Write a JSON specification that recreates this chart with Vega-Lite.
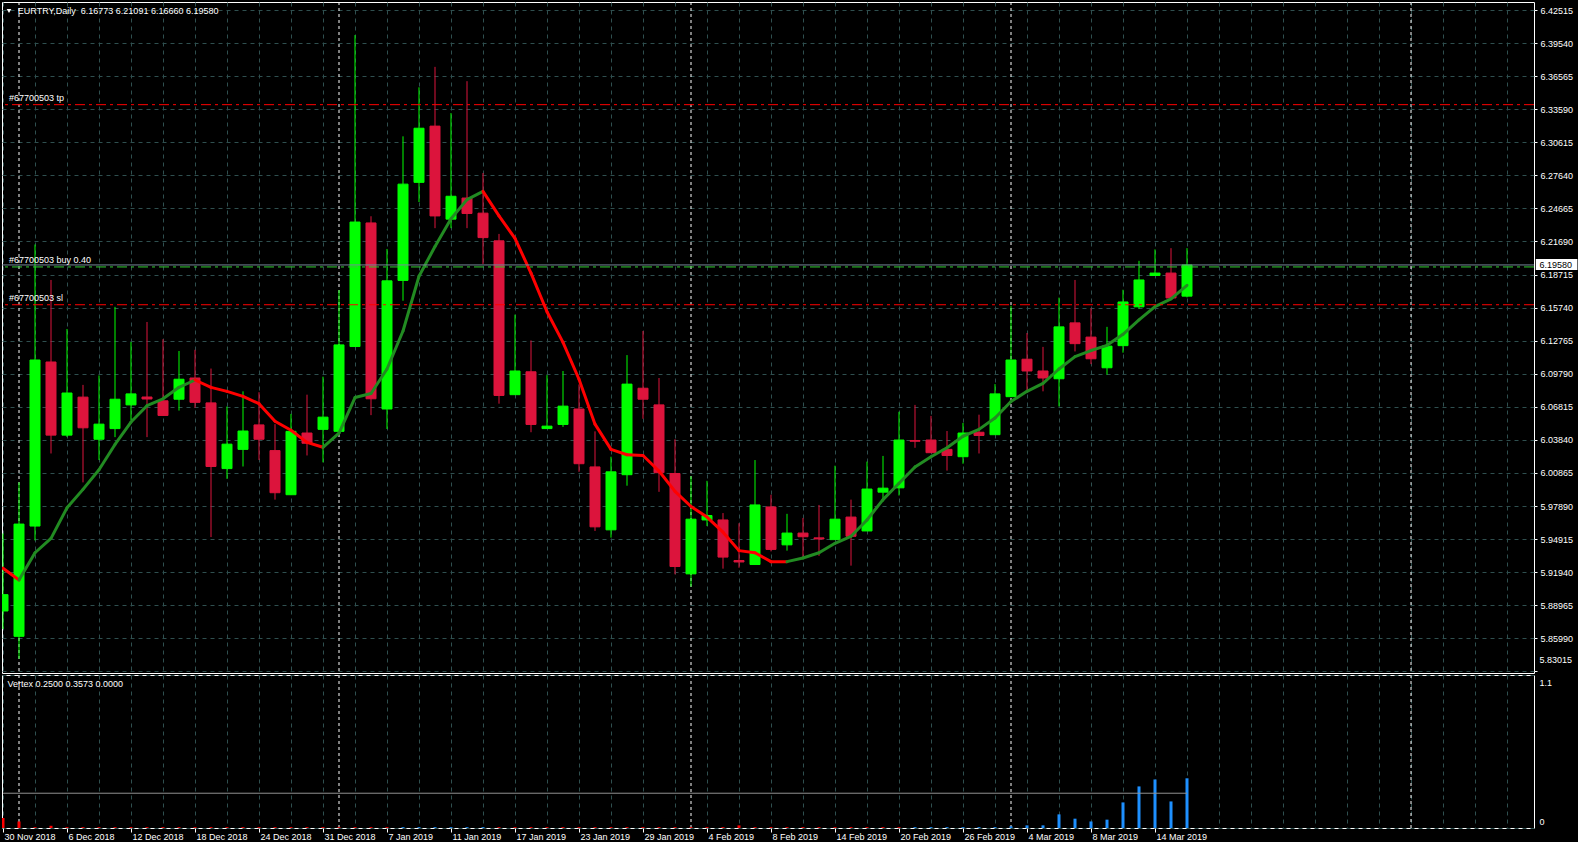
{
"$schema": "https://vega.github.io/schema/vega-lite/v6.json",
"background": "#000000",
"padding": {"left": 0, "top": 1, "right": 0, "bottom": 0},
"bounds": "flush",
"spacing": 2,
"config": {
  "view": {"stroke": "#FFFFFF", "strokeWidth": 1},
  "axis": {"domain": false, "labelFont": "Liberation Sans", "labelFontSize": 9, "labelColor": "#FFFFFF", "gridColor": "#2F4F4F", "gridDash": [4, 4], "gridOpacity": 1, "gridWidth": 1, "tickColor": "#FFFFFF", "labelOverlap": false},
  "text": {"font": "Liberation Sans", "fontSize": 9}
},
"datasets": {
  "bars": [
    {"i":0,"d":"2018-11-30","o":5.8845,"h":5.9542,"l":5.8683,"c":5.8992,"ma":5.9230,"v":0.072,"side":"down"},
    {"i":1,"d":"2018-12-03","o":5.8617,"h":6.0002,"l":5.8415,"c":5.9627,"ma":5.9124,"v":0.047,"side":"down"},
    {"i":2,"d":"2018-12-04","o":5.9609,"h":6.2142,"l":5.9480,"c":6.1103,"ma":5.9369,"v":0.006,"side":"down"},
    {"i":3,"d":"2018-12-05","o":6.1085,"h":6.1823,"l":6.0262,"c":6.0427,"ma":5.9498,"v":0.016,"side":"down"},
    {"i":4,"d":"2018-12-06","o":6.0427,"h":6.1382,"l":6.0410,"c":6.0806,"ma":5.9773,"v":0.006,"side":"down"},
    {"i":5,"d":"2018-12-07","o":6.0769,"h":6.0879,"l":6.0002,"c":6.0493,"ma":5.9939,"v":0.006,"side":"down"},
    {"i":6,"d":"2018-12-10","o":6.0390,"h":6.0964,"l":6.0203,"c":6.0526,"ma":6.0115,"v":0.006,"side":"down"},
    {"i":7,"d":"2018-12-11","o":6.0486,"h":6.1581,"l":6.0409,"c":6.0750,"ma":6.0343,"v":0.006,"side":"down"},
    {"i":8,"d":"2018-12-12","o":6.0699,"h":6.1265,"l":6.0563,"c":6.0798,"ma":6.0545,"v":0.006,"side":"down"},
    {"i":9,"d":"2018-12-13","o":6.0770,"h":6.1445,"l":6.0409,"c":6.0752,"ma":6.0692,"v":0.006,"side":"down"},
    {"i":10,"d":"2018-12-14","o":6.0736,"h":6.1290,"l":6.0600,"c":6.0604,"ma":6.0754,"v":0.006,"side":"down"},
    {"i":11,"d":"2018-12-17","o":6.0750,"h":6.1184,"l":6.0648,"c":6.0930,"ma":6.0857,"v":0.006,"side":"down"},
    {"i":12,"d":"2018-12-18","o":6.0941,"h":6.1195,"l":6.0673,"c":6.0722,"ma":6.0923,"v":0.006,"side":"down"},
    {"i":13,"d":"2018-12-19","o":6.0717,"h":6.1026,"l":5.9510,"c":6.0145,"ma":6.0857,"v":0.006,"side":"down"},
    {"i":14,"d":"2018-12-20","o":6.0126,"h":6.0685,"l":6.0034,"c":6.0346,"ma":6.0821,"v":0.006,"side":"down"},
    {"i":15,"d":"2018-12-21","o":6.0299,"h":6.0821,"l":6.0145,"c":6.0464,"ma":6.0776,"v":0.006,"side":"down"},
    {"i":16,"d":"2018-12-24","o":6.0519,"h":6.0813,"l":6.0203,"c":6.0390,"ma":6.0710,"v":0.006,"side":"down"},
    {"i":17,"d":"2018-12-26","o":6.0288,"h":6.0526,"l":5.9847,"c":5.9909,"ma":6.0552,"v":0.006,"side":"down"},
    {"i":18,"d":"2018-12-27","o":5.9891,"h":6.0618,"l":5.9888,"c":6.0461,"ma":6.0471,"v":0.006,"side":"down"},
    {"i":19,"d":"2018-12-28","o":6.0446,"h":6.0791,"l":6.0244,"c":6.0354,"ma":6.0362,"v":0.006,"side":"down"},
    {"i":20,"d":"2018-12-31","o":6.0479,"h":6.0953,"l":6.0182,"c":6.0589,"ma":6.0318,"v":0.006,"side":"down"},
    {"i":21,"d":"2019-01-02","o":6.0461,"h":6.1731,"l":6.0446,"c":6.1239,"ma":6.0446,"v":0.006,"side":"down"},
    {"i":22,"d":"2019-01-03","o":6.1224,"h":6.4026,"l":6.1220,"c":6.2344,"ma":6.0765,"v":0.006,"side":"down"},
    {"i":23,"d":"2019-01-04","o":6.2336,"h":6.2396,"l":6.0607,"c":6.0754,"ma":6.0802,"v":0.006,"side":"down"},
    {"i":24,"d":"2019-01-07","o":6.0662,"h":6.2102,"l":6.0482,"c":6.1815,"ma":6.1022,"v":0.006,"side":"down"},
    {"i":25,"d":"2019-01-08","o":6.1819,"h":6.3115,"l":6.1636,"c":6.2685,"ma":6.1364,"v":0.006,"side":"up"},
    {"i":26,"d":"2019-01-09","o":6.2701,"h":6.3556,"l":6.2524,"c":6.3188,"ma":6.1856,"v":0.006,"side":"up"},
    {"i":27,"d":"2019-01-10","o":6.3207,"h":6.3740,"l":6.2289,"c":6.2399,"ma":6.2124,"v":0.006,"side":"up"},
    {"i":28,"d":"2019-01-11","o":6.2370,"h":6.3324,"l":6.2289,"c":6.2576,"ma":6.2373,"v":0.006,"side":"up"},
    {"i":29,"d":"2019-01-14","o":6.2560,"h":6.3611,"l":6.2289,"c":6.2421,"ma":6.2546,"v":0.006,"side":"up"},
    {"i":30,"d":"2019-01-15","o":6.2424,"h":6.2785,"l":6.1966,"c":6.2204,"ma":6.2620,"v":0.006,"side":"up"},
    {"i":31,"d":"2019-01-16","o":6.2175,"h":6.2237,"l":6.0710,"c":6.0784,"ma":6.2399,"v":0.006,"side":"down"},
    {"i":32,"d":"2019-01-17","o":6.0791,"h":6.1511,"l":6.0788,"c":6.1004,"ma":6.2197,"v":0.006,"side":"down"},
    {"i":33,"d":"2019-01-18","o":6.0997,"h":6.1279,"l":6.0453,"c":6.0523,"ma":6.1885,"v":0.006,"side":"down"},
    {"i":34,"d":"2019-01-21","o":6.0486,"h":6.0967,"l":6.0486,"c":6.0508,"ma":6.1537,"v":0.006,"side":"down"},
    {"i":35,"d":"2019-01-22","o":6.0523,"h":6.1004,"l":6.0501,"c":6.0688,"ma":6.1261,"v":0.006,"side":"down"},
    {"i":36,"d":"2019-01-23","o":6.0662,"h":6.0883,"l":6.0097,"c":6.0170,"ma":6.0930,"v":0.006,"side":"down"},
    {"i":37,"d":"2019-01-24","o":6.0141,"h":6.0461,"l":5.9565,"c":5.9602,"ma":6.0526,"v":0.006,"side":"down"},
    {"i":38,"d":"2019-01-25","o":5.9575,"h":6.0233,"l":5.9505,"c":6.0097,"ma":6.0299,"v":0.006,"side":"down"},
    {"i":39,"d":"2019-01-28","o":6.0071,"h":6.1147,"l":5.9972,"c":6.0886,"ma":6.0251,"v":0.006,"side":"down"},
    {"i":40,"d":"2019-01-29","o":6.0849,"h":6.1364,"l":6.0574,"c":6.0750,"ma":6.0244,"v":0.006,"side":"down"},
    {"i":41,"d":"2019-01-30","o":6.0699,"h":6.0941,"l":5.9917,"c":6.0089,"ma":6.0104,"v":0.006,"side":"down"},
    {"i":42,"d":"2019-01-31","o":6.0082,"h":6.0390,"l":5.9175,"c":5.9245,"ma":5.9921,"v":0.006,"side":"down"},
    {"i":43,"d":"2019-02-01","o":5.9179,"h":6.0057,"l":5.9065,"c":5.9671,"ma":5.9785,"v":0.006,"side":"down"},
    {"i":44,"d":"2019-02-04","o":5.9664,"h":6.0016,"l":5.9609,"c":5.9704,"ma":5.9690,"v":0.006,"side":"down"},
    {"i":45,"d":"2019-02-05","o":5.9664,"h":5.9726,"l":5.9226,"c":5.9330,"ma":5.9554,"v":0.006,"side":"down"},
    {"i":46,"d":"2019-02-06","o":5.9299,"h":5.9634,"l":5.9234,"c":5.9286,"ma":5.9388,"v":0.019,"side":"down"},
    {"i":47,"d":"2019-02-07","o":5.9263,"h":6.0203,"l":5.9263,"c":5.9799,"ma":5.9369,"v":0.006,"side":"down"},
    {"i":48,"d":"2019-02-08","o":5.9781,"h":5.9891,"l":5.9381,"c":5.9399,"ma":5.9289,"v":0.006,"side":"down"},
    {"i":49,"d":"2019-02-11","o":5.9440,"h":5.9719,"l":5.9388,"c":5.9546,"ma":5.9289,"v":0.006,"side":"down"},
    {"i":50,"d":"2019-02-12","o":5.9546,"h":5.9682,"l":5.9330,"c":5.9513,"ma":5.9322,"v":0.006,"side":"down"},
    {"i":51,"d":"2019-02-13","o":5.9503,"h":5.9799,"l":5.9341,"c":5.9493,"ma":5.9369,"v":0.006,"side":"down"},
    {"i":52,"d":"2019-02-14","o":5.9487,"h":6.0152,"l":5.9487,"c":5.9671,"ma":5.9454,"v":0.006,"side":"down"},
    {"i":53,"d":"2019-02-15","o":5.9690,"h":5.9847,"l":5.9253,"c":5.9517,"ma":5.9517,"v":0.006,"side":"down"},
    {"i":54,"d":"2019-02-18","o":5.9565,"h":6.0189,"l":5.9565,"c":5.9942,"ma":5.9664,"v":0.006,"side":"down"},
    {"i":55,"d":"2019-02-19","o":5.9914,"h":6.0240,"l":5.9829,"c":5.9950,"ma":5.9847,"v":0.006,"side":"down"},
    {"i":56,"d":"2019-02-20","o":5.9953,"h":6.0637,"l":5.9884,"c":6.0383,"ma":5.9994,"v":0.006,"side":"down"},
    {"i":57,"d":"2019-02-21","o":6.0379,"h":6.0699,"l":6.0313,"c":6.0372,"ma":6.0141,"v":0.006,"side":"up"},
    {"i":58,"d":"2019-02-22","o":6.0383,"h":6.0600,"l":6.0269,"c":6.0269,"ma":6.0233,"v":0.006,"side":"up"},
    {"i":59,"d":"2019-02-25","o":6.0299,"h":6.0464,"l":6.0108,"c":6.0244,"ma":6.0313,"v":0.006,"side":"up"},
    {"i":60,"d":"2019-02-26","o":6.0233,"h":6.0537,"l":6.0170,"c":6.0446,"ma":6.0417,"v":0.006,"side":"up"},
    {"i":61,"d":"2019-02-27","o":6.0453,"h":6.0611,"l":6.0262,"c":6.0424,"ma":6.0479,"v":0.006,"side":"up"},
    {"i":62,"d":"2019-02-28","o":6.0431,"h":6.0886,"l":6.0431,"c":6.0798,"ma":6.0581,"v":0.006,"side":"up"},
    {"i":63,"d":"2019-03-01","o":6.0773,"h":6.1591,"l":6.0773,"c":6.1103,"ma":6.0729,"v":0.012,"side":"up"},
    {"i":64,"d":"2019-03-04","o":6.1110,"h":6.1346,"l":6.0831,"c":6.1004,"ma":6.0821,"v":0.019,"side":"up"},
    {"i":65,"d":"2019-03-05","o":6.1004,"h":6.1221,"l":6.0821,"c":6.0941,"ma":6.0893,"v":0.019,"side":"up"},
    {"i":66,"d":"2019-03-06","o":6.0934,"h":6.1664,"l":6.0685,"c":6.1401,"ma":6.1022,"v":0.098,"side":"up"},
    {"i":67,"d":"2019-03-07","o":6.1437,"h":6.1823,"l":6.1180,"c":6.1250,"ma":6.1133,"v":0.067,"side":"up"},
    {"i":68,"d":"2019-03-08","o":6.1309,"h":6.1569,"l":6.1066,"c":6.1114,"ma":6.1188,"v":0.047,"side":"up"},
    {"i":69,"d":"2019-03-11","o":6.1033,"h":6.1401,"l":6.0971,"c":6.1228,"ma":6.1235,"v":0.060,"side":"up"},
    {"i":70,"d":"2019-03-12","o":6.1232,"h":6.1735,"l":6.1169,"c":6.1625,"ma":6.1334,"v":0.184,"side":"up"},
    {"i":71,"d":"2019-03-13","o":6.1581,"h":6.1995,"l":6.1562,"c":6.1823,"ma":6.1463,"v":0.299,"side":"up"},
    {"i":72,"d":"2019-03-14","o":6.1863,"h":6.2098,"l":6.1863,"c":6.1885,"ma":6.1584,"v":0.349,"side":"up"},
    {"i":73,"d":"2019-03-15","o":6.1885,"h":6.2109,"l":6.1661,"c":6.1661,"ma":6.1653,"v":0.191,"side":"up"},
    {"i":74,"d":"2019-03-18","o":6.16773,"h":6.21091,"l":6.16660,"c":6.19580,"ma":6.1775,"v":0.3573,"side":"up"}
  ],
  "seps": [{"i": 1, "m": "Dec 2018"}, {"i": 21, "m": "Jan 2019"}, {"i": 43, "m": "Feb 2019"}, {"i": 63, "m": "Mar 2019"}, {"i": 88, "m": "Apr 2019"}],
  "levels": [
    {"name": "tp", "price": 6.34, "label": "#67700503 tp"},
    {"name": "sl", "price": 6.16, "label": "#67700503 sl"},
    {"name": "buy", "price": 6.194, "label": "#67700503 buy 0.40"},
    {"name": "bid", "price": 6.1958}
  ],
  "head": [{"t": "EURTRY,Daily\u00a0 6.16773 6.21091 6.16660 6.19580", "bid": "6.19580", "vx": "Vertex 0.2500 0.3573 0.0000", "low": "5.83015", "top1": "1.1", "zero": "0"}]
},
"vconcat": [
  {
    "width": 1532,
    "height": 671,
    "layer": [
      {
        "data": {"name": "seps"},
        "mark": {"type": "rule", "color": "#FFFFFF", "strokeDash": [3, 3], "strokeWidth": 1},
        "encoding": {
          "x": {"field": "i", "type": "quantitative", "title": null, "scale": {"domain": [-0.0625, 95.6875], "nice": false, "zero": false, "padding": 0},
                "axis": {"values": [0,2,4,6,8,10,12,14,16,18,20,22,24,26,28,30,32,34,36,38,40,42,44,46,48,50,52,54,56,58,60,62,64,66,68,70,72,74,76,78,80,82,84,86,88,90,92,94], "tickCount": 200, "grid": true, "labels": false, "ticks": false, "domain": false, "title": null}}
        }
      },
      {
        "data": {"name": "bars"},
        "mark": {"type": "rule", "strokeWidth": 1, "clip": true},
        "encoding": {
          "x": {"field": "i", "type": "quantitative", "title": null, "scale": {"domain": [-0.0625, 95.6875], "nice": false, "zero": false, "padding": 0}},
          "y": {"field": "l", "type": "quantitative", "title": null, "scale": {"domain": [5.82872, 6.43235], "nice": false, "zero": false, "padding": 0},
                "axis": {"orient": "right", "values": [6.42515,6.3954,6.36565,6.3359,6.30615,6.2764,6.24665,6.2169,6.18715,6.1574,6.12765,6.0979,6.06815,6.0384,6.00865,5.9789,5.94915,5.9194,5.88965,5.8599,5.83015], "tickCount": 200, "labelExpr": "datum.value < 5.84 ? '' : format(datum.value, '.5f')", "grid": true, "ticks": true, "tickSize": 3, "labelPadding": 3, "labelAlign": "left", "labelBaseline": "middle", "labelOverlap": false, "labelBound": false, "labelFlush": false, "domain": false, "title": null}},
          "y2": {"field": "h"},
          "color": {"condition": {"test": "datum.c >= datum.o", "value": "#00FF00"}, "value": "#DC143C"}
        }
      },
      {
        "data": {"name": "bars"},
        "mark": {"type": "bar", "size": 10, "strokeWidth": 1, "clip": true},
        "encoding": {
          "x": {"field": "i", "type": "quantitative", "title": null, "scale": {"domain": [-0.0625, 95.6875], "nice": false, "zero": false, "padding": 0}},
          "y": {"field": "o", "type": "quantitative", "title": null, "scale": {"domain": [5.82872, 6.43235], "nice": false, "zero": false, "padding": 0}},
          "y2": {"field": "c"},
          "fill": {"condition": {"test": "datum.c >= datum.o", "value": "#00FF00"}, "value": "#DC143C"},
          "stroke": {"condition": {"test": "datum.c >= datum.o", "value": "#00FF00"}, "value": "#DC143C"}
        }
      },
      {
        "data": {"name": "bars"},
        "transform": [
          {"window": [{"op": "lead", "field": "ma", "as": "ma2"}, {"op": "lead", "field": "i", "as": "i2"}], "sort": [{"field": "i", "order": "ascending"}]},
          {"filter": "isValid(datum.ma2)"}
        ],
        "mark": {"type": "rule", "strokeWidth": 3, "strokeCap": "round", "clip": true},
        "encoding": {
          "x": {"field": "i", "type": "quantitative", "title": null, "scale": {"domain": [-0.0625, 95.6875], "nice": false, "zero": false, "padding": 0}},
          "x2": {"field": "i2"},
          "y": {"field": "ma", "type": "quantitative", "title": null, "scale": {"domain": [5.82872, 6.43235], "nice": false, "zero": false, "padding": 0}},
          "y2": {"field": "ma2"},
          "color": {"condition": {"test": "datum.ma2 > datum.ma", "value": "#228B22"}, "value": "#FF0000"}
        }
      },
      {
        "data": {"name": "levels"},
        "mark": {"type": "rule", "strokeWidth": 1},
        "encoding": {
          "y": {"field": "price", "type": "quantitative", "title": null, "scale": {"domain": [5.82872, 6.43235], "nice": false, "zero": false, "padding": 0}},
          "color": {"field": "name", "type": "nominal", "scale": {"domain": ["tp", "sl", "buy", "bid"], "range": ["#FF0000", "#FF0000", "#32CD32", "#778899"]}, "legend": null},
          "strokeDash": {"field": "name", "type": "nominal", "scale": {"domain": ["tp", "sl", "buy", "bid"], "range": [[10, 4, 3, 4], [10, 4, 3, 4], [10, 4, 3, 4], [1, 0]]}, "legend": null}
        }
      },
      {
        "data": {"name": "levels"},
        "transform": [{"filter": "isValid(datum.label)"}],
        "mark": {"type": "text", "align": "left", "baseline": "bottom", "dy": -2, "color": "#FFFFFF"},
        "encoding": {
          "x": {"datum": 0.375, "type": "quantitative", "title": null, "scale": {"domain": [-0.0625, 95.6875], "nice": false, "zero": false, "padding": 0}},
          "y": {"field": "price", "type": "quantitative", "title": null, "scale": {"domain": [5.82872, 6.43235], "nice": false, "zero": false, "padding": 0}},
          "text": {"field": "label"}
        }
      },
      {
        "data": {"name": "head"},
        "mark": {"type": "point", "shape": "triangle-down", "filled": true, "color": "#FFFFFF", "size": 22, "opacity": 1},
        "encoding": {
          "x": {"datum": 0.375, "type": "quantitative", "title": null, "scale": {"domain": [-0.0625, 95.6875], "nice": false, "zero": false, "padding": 0}},
          "y": {"datum": 6.4243, "type": "quantitative", "title": null, "scale": {"domain": [5.82872, 6.43235], "nice": false, "zero": false, "padding": 0}}
        }
      },
      {
        "data": {"name": "head"},
        "mark": {"type": "text", "align": "left", "baseline": "middle", "color": "#FFFFFF"},
        "encoding": {
          "x": {"datum": 0.925, "type": "quantitative", "title": null, "scale": {"domain": [-0.0625, 95.6875], "nice": false, "zero": false, "padding": 0}},
          "y": {"datum": 6.4243, "type": "quantitative", "title": null, "scale": {"domain": [5.82872, 6.43235], "nice": false, "zero": false, "padding": 0}},
          "text": {"field": "t"}
        }
      },
      {
        "data": {"name": "head"},
        "mark": {"type": "text", "align": "left", "baseline": "middle", "dy": -11, "color": "#FFFFFF", "clip": false},
        "encoding": {
          "x": {"datum": 96.03, "type": "quantitative", "title": null, "scale": {"domain": [-0.0625, 95.6875], "nice": false, "zero": false, "padding": 0}},
          "y": {"datum": 5.83015, "type": "quantitative", "title": null, "scale": {"domain": [5.82872, 6.43235], "nice": false, "zero": false, "padding": 0}},
          "text": {"field": "low"}
        }
      },
      {
        "data": {"name": "head"},
        "mark": {"type": "rect", "color": "#FFFFFF", "clip": false},
        "encoding": {
          "x": {"datum": 95.8, "type": "quantitative", "title": null, "scale": {"domain": [-0.0625, 95.6875], "nice": false, "zero": false, "padding": 0}},
          "x2": {"datum": 98.4},
          "y": {"datum": 6.20115, "type": "quantitative", "title": null, "scale": {"domain": [5.82872, 6.43235], "nice": false, "zero": false, "padding": 0}},
          "y2": {"datum": 6.19126}
        }
      },
      {
        "data": {"name": "head"},
        "mark": {"type": "text", "align": "left", "baseline": "middle", "color": "#000000", "clip": false},
        "encoding": {
          "x": {"datum": 96.03, "type": "quantitative", "title": null, "scale": {"domain": [-0.0625, 95.6875], "nice": false, "zero": false, "padding": 0}},
          "y": {"datum": 6.1962, "type": "quantitative", "title": null, "scale": {"domain": [5.82872, 6.43235], "nice": false, "zero": false, "padding": 0}},
          "text": {"field": "bid"}
        }
      }
    ]
  },
  {
    "width": 1532,
    "height": 153,
    "layer": [
      {
        "data": {"name": "seps"},
        "mark": {"type": "rule", "color": "#FFFFFF", "strokeDash": [3, 3], "strokeWidth": 1},
        "encoding": {
          "x": {"field": "i", "type": "quantitative", "title": null, "scale": {"domain": [-0.0625, 95.6875], "nice": false, "zero": false, "padding": 0},
                "axis": {"values": [0,2,4,6,8,10,12,14,16,18,20,22,24,26,28,30,32,34,36,38,40,42,44,46,48,50,52,54,56,58,60,62,64,66,68,70,72,74,76,78,80,82,84,86,88,90,92,94], "tickCount": 200, "grid": true, "domain": false, "ticks": true, "tickSize": 4,
                         "tickColor": {"condition": {"test": "datum.value % 4 == 0 && datum.value <= 72", "value": "#FFFFFF"}, "value": "rgba(0,0,0,0)"},
                         "labelExpr": "datum.value % 4 == 0 && datum.value <= 72 ? ['30 Nov 2018','6 Dec 2018','12 Dec 2018','18 Dec 2018','24 Dec 2018','31 Dec 2018','7 Jan 2019','11 Jan 2019','17 Jan 2019','23 Jan 2019','29 Jan 2019','4 Feb 2019','8 Feb 2019','14 Feb 2019','20 Feb 2019','26 Feb 2019','4 Mar 2019','8 Mar 2019','14 Mar 2019'][datum.value / 4] : ''",
                         "labelAlign": "left", "labelBaseline": "top", "labelPadding": 0, "labelOffset": 1, "labelOverlap": false, "labelBound": false, "labelFlush": false, "title": null}}
        }
      },
      {
        "data": {"name": "bars"},
        "mark": {"type": "bar", "size": 3, "clip": true},
        "encoding": {
          "x": {"field": "i", "type": "quantitative", "title": null, "scale": {"domain": [-0.0625, 95.6875], "nice": false, "zero": false, "padding": 0}},
          "y": {"field": "v", "type": "quantitative", "title": null, "scale": {"domain": [0, 1.1], "nice": false, "zero": false, "padding": 0},
                "axis": {"orient": "right", "values": [0, 1.1], "tickCount": 200, "grid": true, "ticks": false, "labels": false, "domain": false, "title": null}},
          "color": {"condition": {"test": "datum.side == 'up'", "value": "#1E90FF"}, "value": "#FF0000"}
        }
      },
      {
        "data": {"name": "bars"},
        "mark": {"type": "line", "color": "#909090", "strokeWidth": 1},
        "encoding": {
          "x": {"field": "i", "type": "quantitative", "title": null, "scale": {"domain": [-0.0625, 95.6875], "nice": false, "zero": false, "padding": 0}},
          "y": {"datum": 0.25, "type": "quantitative", "title": null, "scale": {"domain": [0, 1.1], "nice": false, "zero": false, "padding": 0}}
        }
      },
      {
        "data": {"name": "head"},
        "mark": {"type": "text", "align": "left", "baseline": "middle", "color": "#FFFFFF"},
        "encoding": {
          "x": {"datum": 0.28, "type": "quantitative", "title": null, "scale": {"domain": [-0.0625, 95.6875], "nice": false, "zero": false, "padding": 0}},
          "y": {"datum": 1.0367, "type": "quantitative", "title": null, "scale": {"domain": [0, 1.1], "nice": false, "zero": false, "padding": 0}},
          "text": {"field": "vx"}
        }
      },
      {
        "data": {"name": "head"},
        "mark": {"type": "text", "align": "left", "baseline": "middle", "dy": 8, "color": "#FFFFFF", "clip": false},
        "encoding": {
          "x": {"datum": 96.03, "type": "quantitative", "title": null, "scale": {"domain": [-0.0625, 95.6875], "nice": false, "zero": false, "padding": 0}},
          "y": {"datum": 1.1, "type": "quantitative", "title": null, "scale": {"domain": [0, 1.1], "nice": false, "zero": false, "padding": 0}},
          "text": {"field": "top1"}
        }
      },
      {
        "data": {"name": "head"},
        "mark": {"type": "text", "align": "left", "baseline": "middle", "dy": -6, "color": "#FFFFFF", "clip": false},
        "encoding": {
          "x": {"datum": 96.03, "type": "quantitative", "title": null, "scale": {"domain": [-0.0625, 95.6875], "nice": false, "zero": false, "padding": 0}},
          "y": {"datum": 0, "type": "quantitative", "title": null, "scale": {"domain": [0, 1.1], "nice": false, "zero": false, "padding": 0}},
          "text": {"field": "zero"}
        }
      }
    ]
  }
]
}
